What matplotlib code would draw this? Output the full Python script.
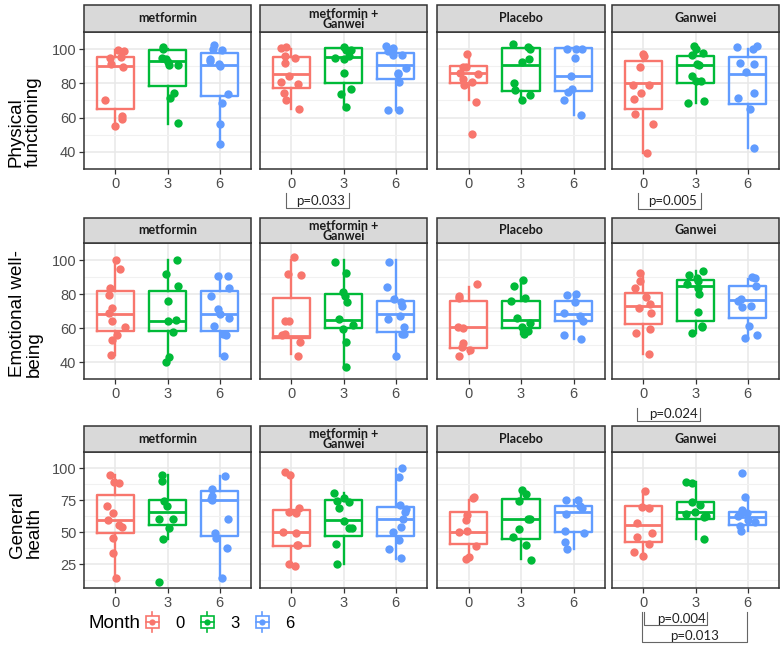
import matplotlib
matplotlib.use("Agg")
import matplotlib.pyplot as plt
from matplotlib.patches import Rectangle
from matplotlib.lines import Line2D
from matplotlib.legend_handler import HandlerBase
import numpy as np

plt.rcParams["font.family"] = ["Liberation Sans", "DejaVu Sans"]

# ---------------- data ----------------
GROUPS = ["metformin", "metformin +\nGanwei", "Placebo", "Ganwei"]
MONTHS = ["0", "3", "6"]
MEASURES = ["Physical\nfunctioning", "Emotional well-\nbeing", "General\nhealth"]
COLORS = ["#F8766D", "#00BA38", "#619CFF"]

# box stats per month: [whisker low, Q1, median, Q3, whisker high]
# Physical functioning
pf_met_pts = [[99.5, 98.7, 95.3, 95.0, 91.2, 89.8, 70.3, 61.0, 59.2, 55.2],
              [101.2, 100.3, 95.0, 94.5, 92.5, 90.8, 90.8, 74.5, 71.2, 57.0],
              [102.5, 99.8, 99.2, 94.5, 93.2, 90.3, 91.2, 73.7, 68.7, 56.2, 44.5]]
pf_met_box = [[55.3, 64.8, 90.3, 95.3, 99.5], [56.0, 78.7, 93.2, 99.2, 100.3], [45.3, 72.8, 90.7, 97.5, 100.0]]
pf_mg_pts = [[101.5, 100.8, 95.7, 94.8, 92.0, 84.2, 80.8, 79.5, 74.2, 70.0, 65.0],
             [101.2, 99.5, 99.2, 96.2, 94.8, 94.2, 85.8, 76.5, 74.0, 66.2],
             [102.0, 100.7, 99.5, 98.7, 96.7, 96.5, 88.7, 85.8, 85.7, 80.7, 64.5, 64.5]]
pf_mg_box = [[65.0, 77.3, 85.7, 95.3, 100.0], [65.3, 80.3, 95.3, 100.5, 100.5], [64.5, 82.5, 90.7, 97.8, 100.0]]
pf_pl_pts = [[97.0, 89.5, 89.5, 85.8, 85.3, 82.5, 80.7, 79.2, 69.2, 50.7],
             [102.8, 101.2, 99.8, 94.0, 92.3, 80.3, 76.2, 73.3, 70.0],
             [99.8, 99.8, 99.8, 95.0, 84.5, 77.0, 74.8, 70.3, 61.5]]
pf_pl_box = [[70.3, 80.3, 85.8, 90.3, 95.3], [70.3, 75.3, 90.7, 100.7, 100.7], [61.5, 75.3, 84.2, 100.7, 100.7]]
pf_gw_pts = [[97.0, 96.2, 89.8, 79.2, 79.2, 74.5, 70.8, 62.0, 56.2, 39.5],
             [101.7, 99.8, 97.8, 96.5, 91.5, 90.7, 84.2, 81.5, 81.5, 69.5, 68.7],
             [102.0, 101.2, 100.3, 91.2, 91.7, 86.7, 74.2, 71.2, 64.8, 42.0]]
pf_gw_box = [[39.5, 65.0, 80.3, 92.8, 97.0], [68.7, 80.3, 90.8, 95.7, 100.0], [42.0, 67.8, 85.7, 95.3, 100.0]]

# Emotional well-being
ew_met_pts = [[99.8, 94.6, 83.6, 79.3, 71.6, 68.7, 64.0, 60.7, 55.9, 52.8, 44.1],
              [99.8, 91.9, 84.6, 75.6, 64.4, 64.5, 57.5, 42.9, 40.2],
              [90.5, 90.8, 83.6, 79.1, 71.0, 68.4, 65.8, 60.9, 55.7, 56.6, 43.3]]
ew_met_box = [[44.1, 58.0, 68.2, 81.8, 99.8], [40.2, 58.0, 64.0, 81.8, 99.8], [43.6, 58.0, 68.0, 81.8, 91.7]]
ew_mg_pts = [[101.6, 91.2, 91.5, 64.0, 64.0, 55.9, 56.6, 51.9, 43.3],
             [99.0, 92.6, 81.0, 79.1, 75.3, 65.2, 61.8, 59.4, 51.6, 37.2],
             [99.0, 84.3, 77.3, 75.3, 73.2, 67.1, 65.2, 60.6, 56.6, 56.3, 43.8]]
ew_mg_box = [[45.0, 54.0, 55.4, 77.9, 99.8], [36.7, 60.1, 64.9, 80.1, 99.8], [43.8, 57.6, 68.4, 76.1, 99.8]]
ew_pl_pts = [[85.6, 79.1, 77.9, 60.6, 60.2, 51.4, 48.8, 47.3, 43.3],
             [88.2, 84.8, 77.9, 75.8, 65.8, 62.8, 60.6, 58.3, 56.3],
             [80.1, 79.6, 75.3, 68.7, 67.0, 64.0, 53.7, 55.7]]
ew_pl_box = [[45.0, 48.0, 60.6, 76.1, 84.3], [56.3, 60.1, 64.9, 76.1, 88.2], [53.7, 64.0, 68.4, 76.1, 80.1]]
ew_gw_pts = [[92.6, 87.7, 83.6, 78.4, 73.9, 71.5, 69.0, 59.4, 57.1, 44.5],
             [93.4, 91.2, 89.5, 87.4, 83.6, 85.6, 80.1, 69.2, 60.6, 61.4, 57.1],
             [90.0, 89.5, 84.8, 77.3, 76.1, 72.7, 72.2, 61.4, 55.9, 54.0]]
ew_gw_box = [[44.5, 62.3, 72.7, 80.5, 92.6], [57.1, 64.4, 84.8, 88.2, 93.4], [54.0, 66.1, 76.6, 84.8, 89.1]]

# General health
gh_met_pts = [[94.7, 89.3, 88.3, 70.1, 64.9, 59.6, 55.8, 54.1, 45.8, 33.8, 14.7],
              [94.7, 90.0, 74.4, 70.4, 60.6, 60.6, 53.4, 45.0, 11.2],
              [94.0, 83.3, 78.5, 74.9, 76.1, 60.6, 49.1, 45.3, 38.1, 14.7]]
gh_met_box = [[14.7, 49.8, 59.6, 79.2, 94.7], [44.6, 56.0, 65.4, 74.9, 94.7], [14.7, 47.0, 74.9, 82.3, 94.0]]
gh_mg_pts = [[96.7, 94.7, 69.2, 65.4, 64.9, 50.1, 49.4, 39.8, 39.8, 23.8, 25.0],
             [80.9, 76.8, 73.3, 74.0, 69.2, 58.4, 53.7, 53.7, 41.0, 25.0],
             [100.2, 93.1, 71.6, 68.5, 66.1, 60.6, 54.1, 50.1, 44.1, 36.7, 30.3]]
gh_mg_box = [[23.8, 39.1, 50.1, 67.3, 96.4], [25.0, 47.0, 59.6, 74.9, 80.9], [29.5, 47.0, 60.1, 69.7, 99.0]]
gh_pl_pts = [[77.3, 76.4, 63.7, 59.4, 50.6, 50.1, 39.1, 31.0, 29.1],
             [82.8, 79.7, 74.0, 60.6, 60.1, 52.2, 46.3, 40.3, 28.6],
             [75.2, 74.9, 70.1, 69.0, 64.4, 50.6, 49.4, 42.2, 36.7]]
gh_pl_box = [[30.3, 40.5, 50.1, 65.4, 74.9], [29.1, 45.1, 60.1, 75.6, 80.4], [36.7, 50.1, 65.4, 70.4, 75.2]]
gh_gw_pts = [[82.3, 69.7, 69.2, 57.2, 49.4, 46.5, 40.5, 35.0, 31.5],
             [89.5, 88.1, 73.3, 71.6, 65.4, 64.4, 62.5, 62.0, 44.6],
             [96.4, 77.3, 67.3, 64.4, 63.0, 59.6, 54.6, 51.3, 57.7, 64.9]]
gh_gw_box = [[31.5, 42.7, 55.8, 70.4, 82.3], [44.6, 60.6, 65.4, 73.3, 89.5], [51.0, 55.8, 61.8, 65.6, 75.2]]

Y_TICKS = [[40, 60, 80, 100], [40, 60, 80, 100], [25, 50, 75, 100]]
Y_LIMS = [(36.6, 105.2), (34.3, 104.8), (6.6, 104.1)]

PANELS = [
    [(pf_met_pts, pf_met_box), (pf_mg_pts, pf_mg_box), (pf_pl_pts, pf_pl_box), (pf_gw_pts, pf_gw_box)],
    [(ew_met_pts, ew_met_box), (ew_mg_pts, ew_mg_box), (ew_pl_pts, ew_pl_box), (ew_gw_pts, ew_gw_box)],
    [(gh_met_pts, gh_met_box), (gh_mg_pts, gh_mg_box), (gh_pl_pts, gh_pl_box), (gh_gw_pts, gh_gw_box)],
]

# ---------------- layout ----------------
W, H = 784, 650
fig = plt.figure(figsize=(W / 100, H / 100), dpi=100)

COL_X = [(84, 251), (260, 427), (437, 605), (612, 779)]
ROW_Y = [(32, 169), (243, 379), (452, 588)]
STRIP_H = [27, 25, 26]
LABEL_POS = [(25, 167), (26, 377), (26, 558)]

rng = np.random.default_rng(7)
axes = {}
for r in range(3):
    y0, y1 = ROW_Y[r]
    for c in range(4):
        x0, x1 = COL_X[c]
        ax = fig.add_axes([x0 / W, 1 - y1 / H, (x1 - x0) / W, (y1 - y0) / H])
        axes[(r, c)] = ax
        pts, box = PANELS[r][c]
        for m in range(3):
            wl, q1, med, q3, wh = box[m]
            st = dict(whislo=wl, q1=q1, med=med, q3=q3, whishi=wh, fliers=[])
            col = COLORS[m]
            ax.bxp([st], positions=[m], widths=0.72, showfliers=False, showcaps=False,
                   boxprops=dict(color=col, lw=1.7), whiskerprops=dict(color=col, lw=1.7),
                   medianprops=dict(color=col, lw=2.0), patch_artist=False, zorder=3)
            vals = np.asarray(pts[m])
            jit = rng.uniform(-0.2, 0.2, size=len(vals))
            ax.plot(m + jit, vals, 'o', color=col, ms=6.0, mec='none', zorder=4)
        ax.set_xlim(-0.6, 2.6)
        ax.set_ylim(*Y_LIMS[r])
        ax.set_xticks(range(3))
        ax.set_xticklabels(MONTHS)
        yt = Y_TICKS[r]
        ax.set_yticks(yt)
        step = yt[1] - yt[0]
        ax.set_yticks([v + step / 2 for v in [yt[0] - step] + yt], minor=True)
        ax.grid(True, which='major', color='#E8E8E8', lw=1.1, zorder=0)
        ax.grid(True, which='minor', axis='y', color='#F1F1F1', lw=0.8, zorder=0)
        ax.set_axisbelow(True)
        ax.tick_params(axis='both', which='major', length=3.5, width=0.9, color='#333333',
                       labelsize=10.5, labelcolor='#4D4D4D', pad=2)
        ax.tick_params(axis='y', which='minor', length=0)
        if c > 0:
            ax.tick_params(axis='y', left=False, labelleft=False)
        for sp in ax.spines.values():
            sp.set_color('#333333')
            sp.set_linewidth(1.1)
        # strip
        hfrac = STRIP_H[r] / (y1 - y0)
        ax.add_patch(Rectangle((0, 1), 1, hfrac, transform=ax.transAxes, fc='#D9D9D9',
                               ec='#333333', lw=1.1, clip_on=False, zorder=5))
        ax.text(0.5, 1 + hfrac / 2, GROUPS[c], transform=ax.transAxes, ha='center', va='center',
                fontsize=9, fontweight='bold', family='Lato', color='#1A1A1A',
                linespacing=0.8, zorder=6)
    lx, ly = LABEL_POS[r]
    fig.text(lx / W, 1 - ly / H, MEASURES[r], rotation=90, ha='center', va='bottom',
             multialignment='left', fontsize=13.5, color='black', linespacing=1.0)


# ---------------- significance brackets ----------------
def bracket(ax, x1, x2, y_top, y_bot, text, tx, ty):
    tr = ax.get_xaxis_transform()
    ax.plot([x1, x1, x2, x2], [y_top, y_bot, y_bot, y_top], color='#666666', lw=0.8,
            transform=tr, clip_on=False)
    ax.text(tx, ty, text, transform=tr, ha='center', va='center', fontsize=9.5,
            family='Lato', color='#222222', clip_on=False)


bracket(axes[(0, 1)], -0.10, 1.11, -0.175, -0.285, "p=0.033", 0.57, -0.232)
bracket(axes[(0, 3)], -0.10, 1.10, -0.175, -0.290, "p=0.005", 0.56, -0.234)
bracket(axes[(1, 3)], -0.12, 1.08, -0.213, -0.309, "p=0.024", 0.57, -0.257)
bracket(axes[(2, 3)], 0.02, 1.22, -0.176, -0.272, "p=0.004", 0.73, -0.228)
bracket(axes[(2, 3)], -0.03, 1.99, -0.176, -0.397, "p=0.013", 0.98, -0.353)


# ---------------- legend ----------------
class BoxKey(HandlerBase):
    def create_artists(self, legend, orig, xd, yd, w, h, fs, trans):
        c = orig.get_color()
        x0, y0 = -xd, -yd
        cx = x0 + w / 2
        arts = [
            Line2D([cx, cx], [y0 - 0.35 * h, y0 + 1.35 * h], color=c, lw=1.2, transform=trans),
            Rectangle((x0, y0), w, h, fc='white', ec=c, lw=1.2, transform=trans),
            Line2D([x0, x0 + w], [y0 + h / 2] * 2, color=c, lw=1.2, transform=trans),
            Line2D([cx], [y0 + h / 2], marker='o', ms=4.5, color=c, mec='none', transform=trans),
        ]
        return arts


handles = [Line2D([], [], color=c) for c in COLORS]
fig.text(88 / W, 1 - 623 / H, "Month", ha='left', va='center', fontsize=13.5)
fig.legend(handles=handles, labels=MONTHS, handler_map={Line2D: BoxKey()}, ncol=3,
           loc='center left', bbox_to_anchor=(146 / W, 1 - 623 / H), frameon=False,
           fontsize=12, handlelength=0.75, handleheight=0.7, handletextpad=1.0,
           columnspacing=1.0, borderpad=0, borderaxespad=0)

fig.savefig("out.png", dpi=100)
